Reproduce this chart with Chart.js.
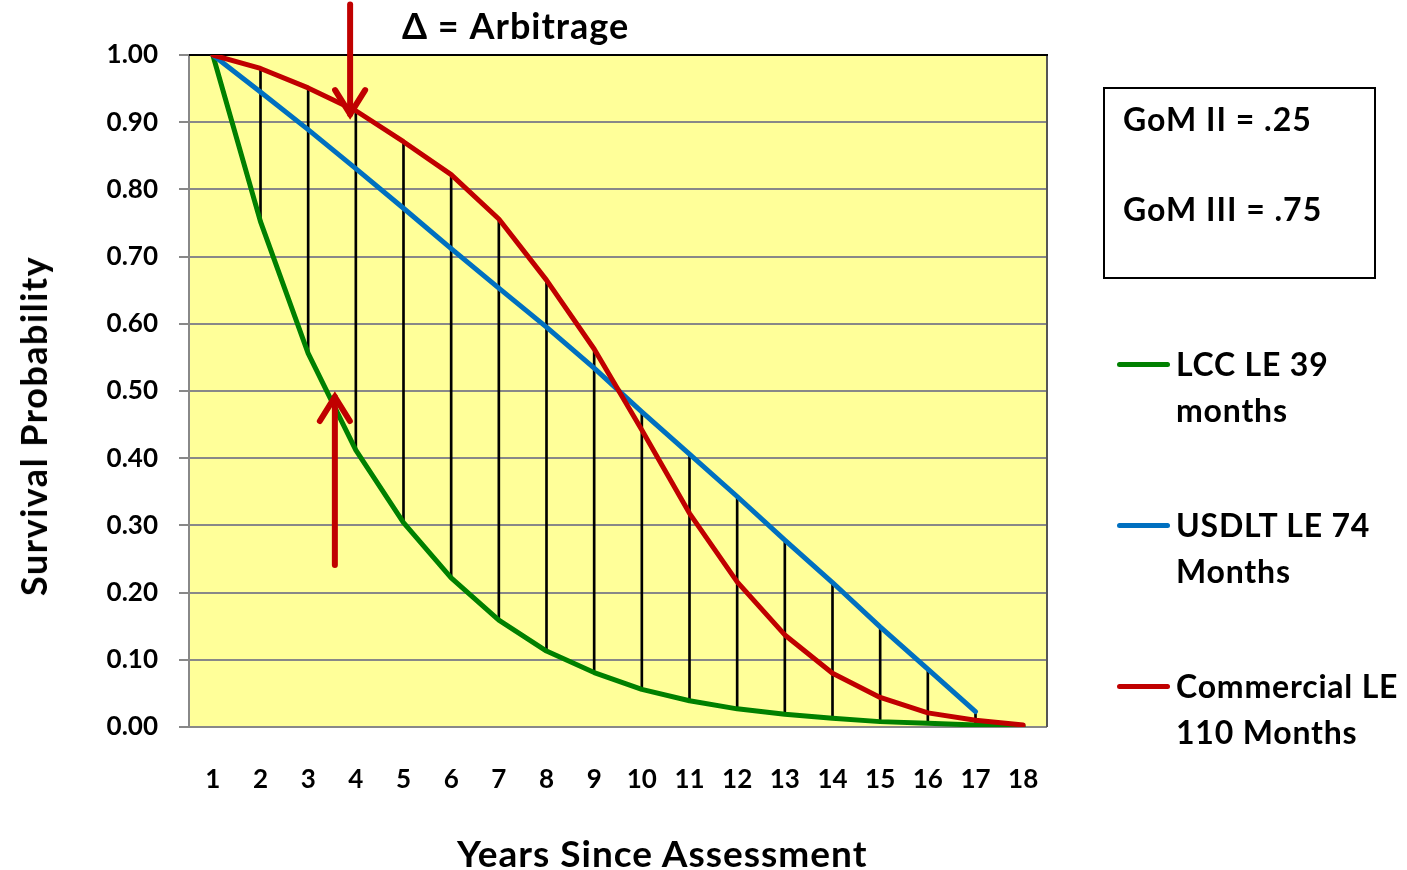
<!DOCTYPE html>
<html>
<head>
<meta charset="utf-8">
<script src="https://cdn.jsdelivr.net/npm/chart.js@4/dist/chart.umd.min.js"></script>
<style>
  html, body { margin: 0; padding: 0; background: #fff; }
  #wrap { position: relative; width: 1407px; height: 870px; overflow: hidden; font-family: Lato, "Open Sans", sans-serif; font-weight: bold; color: #000; }
  #c { position: absolute; left: 0; top: 0; }
  .t { position: absolute; white-space: nowrap; font-weight: bold; }
  #title { left: 402px; top: 5px; font-size: 36px; line-height: 40px; letter-spacing: 1px; }
  #xtitle { left: 457px; top: 833px; font-size: 37px; line-height: 40px; letter-spacing: 1px; }
  #ytitle { left: 33px; top: 426px; font-size: 36px; line-height: 36px; letter-spacing: 1.5px; transform: translate(-50%, -50%) rotate(-90deg); transform-origin: center; }
  #gom { position: absolute; left: 1103px; top: 87px; width: 273px; height: 192px; border: 2px solid #000; box-sizing: border-box; }
  #gom div { position: absolute; left: 18px; font-size: 32px; line-height: 36px; letter-spacing: 1px; white-space: nowrap; }
  .leg { position: absolute; left: 1117px; }
  .leg .ln { position: absolute; left: 0; width: 53px; height: 5px; border-radius: 3px; }
  .leg .tx { position: absolute; left: 59px; top: 0; font-size: 32px; line-height: 46px; letter-spacing: 0.8px; white-space: nowrap; }
</style>
</head>
<body>
<div id="wrap">
  <canvas id="c" width="1407" height="870"></canvas>
  <div class="t" id="title">Δ = Arbitrage</div>
  <div class="t" id="xtitle">Years Since Assessment</div>
  <div class="t" id="ytitle">Survival Probability</div>
  <div id="gom">
    <div style="top:12px">GoM II = .25</div>
    <div style="top:102px">GoM III = .75</div>
  </div>
  <div class="leg" style="top:341px"><div class="ln" style="top:21px;background:#008000"></div><div class="tx">LCC LE 39<br>months</div></div>
  <div class="leg" style="top:502px"><div class="ln" style="top:21px;background:#0070C0"></div><div class="tx">USDLT LE 74<br>Months</div></div>
  <div class="leg" style="top:663px"><div class="ln" style="top:21px;background:#C00000"></div><div class="tx">Commercial LE<br>110 Months</div></div>
</div>
<script>
const years = ['1','2','3','4','5','6','7','8','9','10','11','12','13','14','15','16','17','18'];
const lcc = [1.00,0.752,0.556,0.412,0.304,0.222,0.159,0.113,0.081,0.056,0.039,0.027,0.019,0.013,0.008,0.0055,0.003,0.001];
const usdlt = [1.00,0.945,0.889,0.831,0.772,0.712,0.653,0.595,0.534,0.469,0.406,0.343,0.278,0.215,0.149,0.086,0.023,null];
const commercial = [1.00,0.980,0.951,0.917,0.871,0.822,0.756,0.665,0.5625,0.442,0.318,0.216,0.137,0.080,0.044,0.021,0.010,0.003];
const yTicks = [0,0.1,0.2,0.3,0.4,0.5,0.6,0.7,0.8,0.9,1.0];
// arrows in data coordinates: [x index, y from, y to(tip)]
const arrowDown = [2.88, 1.075, 0.906];
const arrowUp = [2.56, 0.241, 0.497];

// vertical "arbitrage" spans from lowest to highest curve
const spans = years.map((_, i) => {
  if (i === 0 || usdlt[i] === null) return null;
  return [lcc[i], Math.max(usdlt[i], commercial[i])];
});

const frame = {
  id: 'frame',
  beforeDraw(chart) {
    const {ctx, chartArea: a} = chart;
    ctx.save();
    ctx.fillStyle = '#FFFF99';
    ctx.fillRect(a.left, a.top, a.right - a.left, a.bottom - a.top);
    ctx.restore();
  },
  beforeDatasetsDraw(chart) {
    const {ctx, chartArea: a} = chart;
    ctx.save();
    ctx.lineWidth = 2;
    ctx.strokeStyle = '#555';
    ctx.beginPath(); ctx.moveTo(a.right, a.top); ctx.lineTo(a.right, a.bottom); ctx.stroke();
    ctx.strokeStyle = '#000';
    ctx.beginPath(); ctx.moveTo(a.left, a.top); ctx.lineTo(a.right + 1, a.top); ctx.stroke();
    ctx.restore();
  },
  afterDatasetsDraw(chart) {
    const {ctx, scales: {x, y}} = chart;
    const draw = (arr) => {
      const px = x.getPixelForValue(arr[0]);
      const y0 = y.getPixelForValue(arr[1]);
      const y1 = y.getPixelForValue(arr[2]);
      const dir = y1 > y0 ? 1 : -1;
      ctx.save();
      ctx.strokeStyle = '#C00000';
      ctx.lineWidth = 6;
      ctx.lineCap = 'round';
      ctx.lineJoin = 'miter';
      ctx.beginPath(); ctx.moveTo(px, y0); ctx.lineTo(px, y1 - dir * 4); ctx.stroke();
      ctx.beginPath();
      ctx.moveTo(px - 15, y1 - dir * 28);
      ctx.lineTo(px, y1 - dir * 4);
      ctx.lineTo(px + 15, y1 - dir * 28);
      ctx.stroke();
      ctx.restore();
    };
    draw(arrowDown);
    draw(arrowUp);
  }
};

const font = (s) => ({family: 'Lato, "Open Sans", sans-serif', size: s, weight: 'bold'});

new Chart(document.getElementById('c'), {
  data: {
    labels: years,
    datasets: [
      {type: 'bar', data: spans, backgroundColor: '#000', borderWidth: 0, barThickness: 2, order: 10},
      {type: 'line', label: 'LCC LE 39 months', data: lcc, borderColor: '#008000', borderWidth: 5, pointRadius: 0, tension: 0, borderJoinStyle: 'round', borderCapStyle: 'round', order: 3},
      {type: 'line', label: 'USDLT LE 74 Months', data: usdlt, borderColor: '#0070C0', borderWidth: 5, pointRadius: 0, tension: 0, borderJoinStyle: 'round', borderCapStyle: 'round', order: 2},
      {type: 'line', label: 'Commercial LE 110 Months', data: commercial, borderColor: '#C00000', borderWidth: 5, pointRadius: 0, tension: 0, borderJoinStyle: 'round', borderCapStyle: 'round', order: 1}
    ]
  },
  options: {
    responsive: false,
    animation: false,
    layout: {padding: {left: 0, top: 55, right: 360, bottom: 0}},
    plugins: {legend: {display: false}, tooltip: {enabled: false}},
    scales: {
      x: {
        type: 'category',
        offset: true,
        grid: {display: false, drawTicks: false},
        border: {display: false},
        ticks: {color: '#000', font: font(26), padding: 37, maxRotation: 0, autoSkip: false},
        afterFit(s) { s.height = 143; }
      },
      y: {
        min: 0, max: 1,
        afterBuildTicks(s) { s.ticks = yTicks.map(v => ({value: v})); },
        grid: {color: '#888', lineWidth: 2, tickLength: 10, drawTicks: true},
        border: {color: '#888', width: 2},
        ticks: {color: '#000', font: font(26), padding: 21, callback: v => Number(v).toFixed(2)},
        afterFit(s) { s.width = 189; }
      }
    }
  },
  plugins: [frame]
});
</script>
</body>
</html>
